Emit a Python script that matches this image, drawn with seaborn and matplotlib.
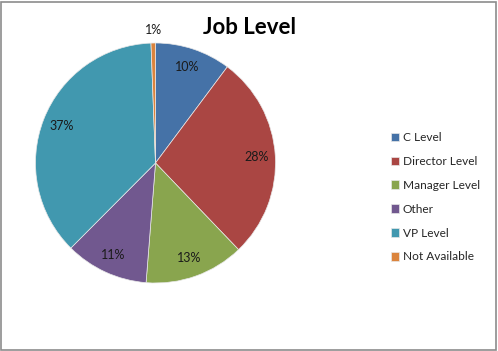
import matplotlib
matplotlib.use("Agg")
import matplotlib.pyplot as plt
import matplotlib.patches as mpatches
import seaborn as sns

# Job level shares (percent)
levels = ['C Level', 'Director Level', 'Manager Level', 'Other', 'VP Level', 'Not Available']
shares = [10.2, 27.6, 13.4, 11.2, 36.9, 0.6]
colors = ['#4572A7', '#AA4643', '#89A54E', '#71588F', '#4198AF', '#DB843D']

sns.set_theme(style="white")
plt.rcParams['font.family'] = ['Lato', 'DejaVu Sans']

W, H = 498, 351
fig = plt.figure(figsize=(W / 100, H / 100), dpi=100)

# pie axes: centre (155.5, 163) px, radius 120 px
cx, cy, r = 155.5, 163, 120
ax = fig.add_axes([(cx - r) / W, (H - cy - r) / H, 2 * r / W, 2 * r / H])

wedges, texts, autotexts = ax.pie(
    shares, colors=colors, startangle=90, counterclock=False,
    autopct='%.0f%%', pctdistance=0.84,
    wedgeprops=dict(edgecolor='#e8e8e8', linewidth=0.5),
    textprops=dict(fontsize=9, color='#1a1a1a'))
# tiny slice label sits outside the pie
autotexts[-1].set_position((-0.02, 1.11))
ax.set_xlim(-1, 1)
ax.set_ylim(-1, 1)
ax.set_aspect('equal')
ax.axis('off')

fig.text(249 / W, 1 - 27 / H, 'Job Level', ha='center', va='center',
         fontsize=16, fontweight='bold', color='black')

fig.legend(wedges, levels, loc='upper left', bbox_to_anchor=(391 / W, 1 - 132 / H),
           frameon=False, fontsize=8.6, handlelength=0.7, handleheight=0.7,
           handletextpad=0.3, labelspacing=1.08, borderpad=0, borderaxespad=0)

# outer chart border
fig.patches.append(mpatches.Rectangle((0.002, 0.003), 0.994, 0.992, transform=fig.transFigure,
                                      fill=False, edgecolor='#8c8c8c', linewidth=1.2))

fig.savefig('out.png', dpi=100)
